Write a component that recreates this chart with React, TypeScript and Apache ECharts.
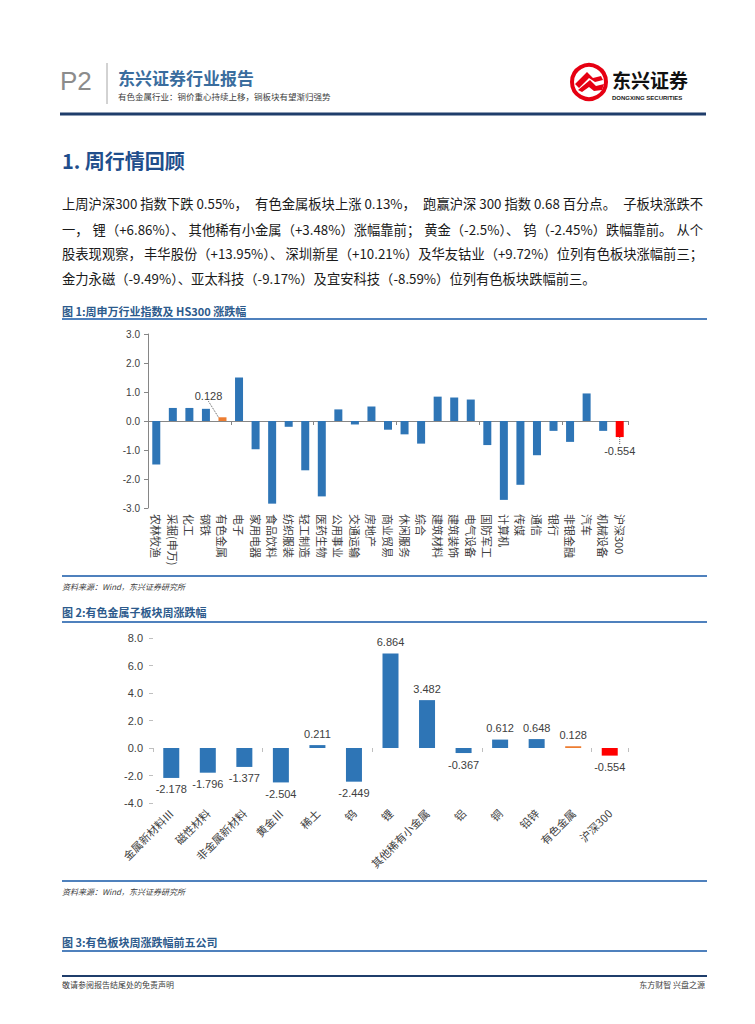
import React, { useEffect, useRef } from "react";
import * as echarts from "echarts";

const industries = [
  "农林牧渔", "采掘(申万)", "化工", "钢铁", "有色金属", "电子", "家用电器", "食品饮料",
  "纺织服装", "轻工制造", "医药生物", "公用事业", "交通运输", "房地产", "商业贸易", "休闲服务",
  "综合", "建筑材料", "建筑装饰", "电气设备", "国防军工", "计算机", "传媒", "通信",
  "银行", "非银金融", "汽车", "机械设备", "沪深300",
];
const industryChanges = [
  -1.5, 0.45, 0.45, 0.42, 0.128, 1.5, -0.97, -2.85,
  -0.2, -1.7, -2.6, 0.4, -0.12, 0.5, -0.3, -0.46,
  -0.78, 0.84, 0.81, 0.74, -0.83, -2.72, -2.2, -1.18,
  -0.34, -0.72, 0.95, -0.34, -0.554,
];
const subSectors = [
  "金属新材料Ⅲ", "磁性材料", "非金属新材料", "黄金Ⅲ", "稀土", "钨", "锂",
  "其他稀有小金属", "铝", "铜", "铅锌", "有色金属", "沪深300",
];
const subSectorChanges = [
  -2.178, -1.796, -1.377, -2.504, 0.211, -2.449, 6.864,
  3.482, -0.367, 0.612, 0.648, 0.128, -0.554,
];
const chart1Ticks = { min: -3, max: 3, interval: 1 };
const chart2Ticks = { min: -4, max: 8, interval: 2 };

const paragraph = [
  "上周沪深300 指数下跌 0.55%，有色金属板块上涨 0.13%，跑赢沪深 300 指数 0.68 百分点。子板块涨跌不",
  "一，锂（+6.86%）、其他稀有小金属（+3.48%）涨幅靠前；黄金（-2.5%）、钨（-2.45%）跌幅靠前。从个",
  "股表现观察，丰华股份（+13.95%）、深圳新星（+10.21%）及华友钴业（+9.72%）位列有色板块涨幅前三；",
  "金力永磁（-9.49%）、亚太科技（-9.17%）及宜安科技（-8.59%）位列有色板块跌幅前三。",
];

const BLUE = "#2e75b6";
const ORANGE = "#ed7d31";
const RED = "#ff0000";
const CJK = "'Noto Sans CJK SC', 'Liberation Sans', sans-serif";
const NUM = "'Liberation Sans', 'Noto Sans CJK SC', sans-serif";

function colorFor(name: string) {
  if (name === "有色金属") return ORANGE;
  if (name === "沪深300") return RED;
  return BLUE;
}

function splitChunks(line: string) {
  const out: string[] = [];
  let cur = "";
  for (const ch of line) {
    cur += ch;
    if ("，、；。".includes(ch)) {
      out.push(cur);
      cur = "";
    }
  }
  if (cur) out.push(cur);
  return out;
}

export default function App() {
  const ref = useRef<HTMLDivElement>(null);
  useEffect(() => {
    if (!ref.current) return;
    const chart = echarts.init(ref.current, undefined, { renderer: "svg" });

    const txt = (x: number, y: number, text: string, style: any) => ({
      type: "text",
      x,
      y,
      style: { text, fill: "#262626", font: `12px ${CJK}`, verticalAlign: "middle", ...style },
    });
    const hline = (x1: number, x2: number, y: number, color: string, w: number) => ({
      type: "line",
      shape: { x1, y1: y, x2, y2: y },
      style: { stroke: color, lineWidth: w },
    });

    // justified paragraph
    const paraFont = `13.3px ${CJK}`;
    const ctx = document.createElement("canvas").getContext("2d") as CanvasRenderingContext2D;
    ctx.font = paraFont;
    const paraLeft = 62;
    const paraRight = 703;
    const lineYs = [203, 229, 253, 278];
    const paraEls: any[] = [];
    paragraph.forEach((line, i) => {
      const y = lineYs[i];
      if (i === paragraph.length - 1) {
        paraEls.push(txt(paraLeft, y, line, { fill: "#1a1a1a", font: paraFont }));
        return;
      }
      const chunks = splitChunks(line);
      const widths = chunks.map((c) => ctx.measureText(c).width);
      const total = widths.reduce((a, b) => a + b, 0);
      const gap = chunks.length > 1 ? Math.max(0, (paraRight - paraLeft - total) / (chunks.length - 1)) : 0;
      let x = paraLeft;
      chunks.forEach((c, k) => {
        paraEls.push(txt(x, y, c, { fill: "#1a1a1a", font: paraFont }));
        x += widths[k] + gap;
      });
    });

    const graphic: any[] = [
      txt(60, 81, "P2", { fill: "#8c8c8c", font: `26px ${NUM}` }),
      { type: "line", shape: { x1: 107, y1: 63, x2: 107, y2: 104 }, style: { stroke: "#a6a6a6", lineWidth: 1 } },
      txt(118, 77, "东兴证券行业报告", { fill: "#3a6d9e", font: `bold 17px ${CJK}` }),
      txt(118, 96, "有色金属行业：铜价重心持续上移，铜板块有望渐归强势", { fill: "#404040", font: `8.5px ${CJK}` }),
      { type: "circle", shape: { cx: 589, cy: 82, r: 17 }, style: { fill: "#fff", stroke: "#e60012", lineWidth: 4 } },
      { type: "polygon", shape: { points: [[575, 84], [587, 72], [593, 78], [601, 76], [603, 80], [595, 82], [589, 78], [579, 88]] }, style: { fill: "#e60012" } },
      { type: "polygon", shape: { points: [[578, 90], [590, 80], [596, 86], [604, 84], [602, 90], [594, 91], [589, 87], [582, 92]] }, style: { fill: "#e60012" } },
      txt(612, 79, "东兴证券", { fill: "#111", font: `bold 19px ${CJK}` }),
      txt(612, 97.5, "DONGXING SECURITIES", { fill: "#222", font: `bold 6px ${NUM}` }),
      hline(60, 706, 114, "#1f3d6b", 3),
      txt(62, 160, "1. 周行情回顾", { fill: "#1f4e8c", font: `bold 20px ${CJK}` }),
      ...paraEls,
      txt(62, 311, "图 1:周申万行业指数及 HS300 涨跌幅", { fill: "#2c5a8c", font: `bold 11px ${CJK}` }),
      hline(62, 707, 319, "#4f81bd", 2),
      hline(62, 707, 576, "#4f81bd", 2),
      txt(62, 586, "资料来源：Wind，东兴证券研究所", { fill: "#404040", font: `italic 8px ${CJK}` }),
      txt(62, 612, "图 2:有色金属子板块周涨跌幅", { fill: "#2c5a8c", font: `bold 11px ${CJK}` }),
      hline(62, 707, 622, "#4f81bd", 2),
      hline(62, 707, 881, "#4f81bd", 2),
      txt(62, 891, "资料来源：Wind，东兴证券研究所", { fill: "#404040", font: `italic 8px ${CJK}` }),
      txt(62, 942, "图 3:有色板块周涨跌幅前五公司", { fill: "#2c5a8c", font: `bold 11px ${CJK}` }),
      hline(62, 707, 951, "#4f81bd", 2),
      hline(62, 707, 976, "#1f3d6b", 2),
      txt(62, 984, "敬请参阅报告结尾处的免责声明", { fill: "#404040", font: `8px ${CJK}` }),
      txt(705, 984, "东方财智 兴盘之源", { fill: "#404040", font: `8px ${CJK}`, align: "right" }),
    ];

    const option: any = {
      animation: false,
      backgroundColor: "#fff",
      graphic,
      grid: [
        { left: 148, right: 127, top: 334, bottom: 1024 - 508 },
        { left: 153, right: 127, top: 638, bottom: 1024 - 803 },
      ],
      xAxis: [
        {
          gridIndex: 0, type: "category", data: industries,
          axisLine: { onZero: true, lineStyle: { color: "#868686" } },
          axisTick: { show: true, length: 4, lineStyle: { color: "#868686" } },
          axisLabel: { show: false },
        },
        {
          gridIndex: 0, type: "category", data: industries, position: "bottom",
          axisLine: { show: false, onZero: false }, axisTick: { show: false },
          axisLabel: { interval: 0, rotate: -90, fontSize: 11, color: "#404040", fontFamily: CJK, margin: 6 },
        },
        {
          gridIndex: 1, type: "category", data: subSectors,
          axisLine: { show: false, onZero: true },
          axisTick: { show: true, length: 4, lineStyle: { color: "#bfbfbf" } },
          axisLabel: { show: false },
        },
        {
          gridIndex: 1, type: "category", data: subSectors, position: "bottom",
          axisLine: { show: false, onZero: false }, axisTick: { show: false },
          axisLabel: { interval: 0, rotate: 45, fontSize: 11, color: "#404040", fontFamily: CJK, margin: 8 },
        },
      ],
      yAxis: [
        {
          gridIndex: 0, type: "value", ...chart1Ticks,
          axisLine: { show: true, lineStyle: { color: "#868686" } },
          axisTick: { show: true, length: 4, lineStyle: { color: "#868686" } },
          splitLine: { show: false },
          axisLabel: { formatter: (v: number) => v.toFixed(1), fontSize: 10, color: "#404040", fontFamily: NUM, margin: 8 },
        },
        {
          gridIndex: 1, type: "value", ...chart2Ticks,
          axisLine: { show: false },
          axisTick: { show: true, length: 4, lineStyle: { color: "#bfbfbf" } },
          splitLine: { show: false },
          axisLabel: { formatter: (v: number) => v.toFixed(1), fontSize: 11, color: "#404040", fontFamily: NUM, margin: 10 },
        },
      ],
      series: [
        {
          type: "bar", xAxisIndex: 0, yAxisIndex: 0, barWidth: 8,
          data: industryChanges.map((v, i) => {
            const name = industries[i];
            const showLabel = name === "有色金属" || name === "沪深300";
            return {
              value: v,
              itemStyle: { color: colorFor(name) },
              label: {
                show: showLabel,
                position: v < 0 ? "bottom" : "top",
                distance: 8,
                formatter: (p: any) => String(p.value),
                fontSize: 11, color: "#404040", fontFamily: NUM,
              },
            };
          }),
          labelLayout: (p: any) => (industries[p.dataIndex] === "有色金属" ? { dx: -14, dy: -8 } : {}),
          labelLine: { show: true, lineStyle: { type: "dotted", color: "#595959", width: 1 } },
        },
        {
          type: "bar", xAxisIndex: 2, yAxisIndex: 1, barWidth: 16,
          data: subSectorChanges.map((v, i) => ({
            value: v,
            itemStyle: { color: colorFor(subSectors[i]) },
            label: {
              show: true,
              position: v < 0 ? "bottom" : "top",
              distance: 6,
              formatter: (p: any) => p.value.toFixed(3),
              fontSize: 11, color: "#404040", fontFamily: NUM,
            },
          })),
        },
      ],
    };
    chart.setOption(option);
    return () => chart.dispose();
  }, []);
  return (
    <div
      ref={ref}
      style={{ position: "absolute", left: 0, top: 0, width: 755, height: 1024, background: "#fff" }}
    />
  );
}
